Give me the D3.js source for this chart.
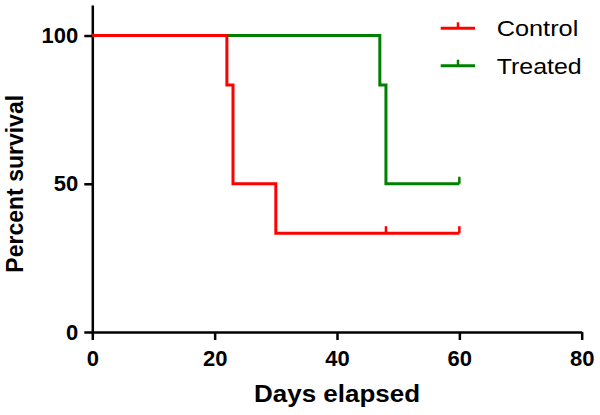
<!DOCTYPE html>
<html>
<head>
<meta charset="utf-8">
<script src="https://cdn.jsdelivr.net/npm/d3@7/dist/d3.min.js"></script>
<style>
  html, body { margin: 0; padding: 0; background: #fff; }
  svg { display: block; }
</style>
</head>
<body>
<svg id="chart" width="600" height="415"></svg>
<script>
// ---- data ----
const seriesNames = ["Control", "Treated"];
const seriesColors = ["#ff0000", "#008000"];
const controlDays = [0, 22, 23, 30, 60];
const controlSurvival = [100, 83.33, 50, 33.33, 33.33];
const controlCensored = [48, 60];
const treatedDays = [0, 47, 48, 60];
const treatedSurvival = [100, 83.33, 50, 50];
const treatedCensored = [60];
const xTicks = [0, 20, 40, 60, 80];
const yTicks = [0, 50, 100];

const svg = d3.select("#chart");
const font = "'Liberation Sans', Arial, sans-serif";

const x = d3.scaleLinear().domain([0, 80]).range([92.3, 581.7]);
const y = d3.scaleLinear().domain([0, 110.3]).range([332, 5]);

// axes
const xAxis = svg.append("g").attr("transform", `translate(0,${y(0)})`)
  .call(d3.axisBottom(x).tickValues(xTicks).tickSize(8).tickSizeOuter(0).tickPadding(10));
const yAxis = svg.append("g").attr("transform", `translate(${x(0)},0)`)
  .call(d3.axisLeft(y).tickValues(yTicks).tickSize(8).tickSizeOuter(0).tickPadding(6));

[xAxis, yAxis].forEach(g => {
  g.select(".domain").attr("stroke", "#000").attr("stroke-width", 2.5);
  g.selectAll(".tick line").attr("stroke", "#000").attr("stroke-width", 2.5);
  g.selectAll(".tick text").attr("fill", "#000")
    .style("font-family", font).style("font-size", "22px").style("font-weight", "bold");
});

// survival curves
const line = d3.line().x(d => x(d[0])).y(d => y(d[1])).curve(d3.curveStepAfter);
const series = [
  { days: treatedDays, surv: treatedSurvival, cens: treatedCensored, color: seriesColors[1] },
  { days: controlDays, surv: controlSurvival, cens: controlCensored, color: seriesColors[0] }
];
function survAt(s, t) {
  let v = s.surv[0];
  for (let i = 0; i < s.days.length; i++) if (s.days[i] <= t) v = s.surv[i];
  return v;
}
series.forEach(s => {
  svg.append("path")
    .datum(s.days.map((d, i) => [d, s.surv[i]]))
    .attr("d", line).attr("fill", "none")
    .attr("stroke", s.color).attr("stroke-width", 3)
    .attr("stroke-linejoin", "miter");
  s.cens.forEach(c => {
    const v = survAt(s, c);
    svg.append("line")
      .attr("x1", x(c)).attr("x2", x(c))
      .attr("y1", y(v)).attr("y2", y(v) - 7)
      .attr("stroke", s.color).attr("stroke-width", 2.5);
  });
});

// axis titles
svg.append("text")
  .attr("x", (x(0) + x(80)) / 2).attr("y", 401.5)
  .attr("text-anchor", "middle")
  .attr("textLength", 166).attr("lengthAdjust", "spacingAndGlyphs")
  .style("font-family", font).style("font-size", "23px").style("font-weight", "bold")
  .text("Days elapsed");

svg.append("text")
  .attr("transform", `translate(23,${(y(0) + y(100)) / 2}) rotate(-90)`)
  .attr("text-anchor", "middle")
  .style("font-family", font).style("font-size", "23px").style("font-weight", "bold")
  .text("Percent survival");

// legend
const legendY = [28.3, 65.7];
seriesNames.forEach((name, i) => {
  const g = svg.append("g");
  g.append("line").attr("x1", 440.7).attr("x2", 475)
    .attr("y1", legendY[i]).attr("y2", legendY[i])
    .attr("stroke", seriesColors[i]).attr("stroke-width", 3);
  g.append("line").attr("x1", 458).attr("x2", 458)
    .attr("y1", legendY[i]).attr("y2", legendY[i] - 6)
    .attr("stroke", seriesColors[i]).attr("stroke-width", 2.5);
  g.append("text").attr("x", 496.7).attr("y", legendY[i] + 8)
    .attr("textLength", i === 0 ? 81.6 : 85).attr("lengthAdjust", "spacingAndGlyphs")
    .style("font-family", font).style("font-size", "22px")
    .text(name);
});
</script>
</body>
</html>
